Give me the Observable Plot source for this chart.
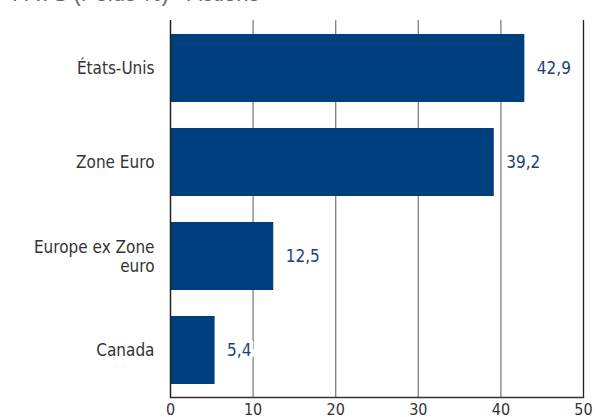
<!DOCTYPE html>
<html>
<head>
<meta charset="utf-8">
<script src="https://cdn.jsdelivr.net/npm/d3@7"></script>
<script src="https://cdn.jsdelivr.net/npm/@observablehq/plot@0.6"></script>
<style>
  body { margin: 0; background: #fff; }
  #wrap { position: relative; width: 595px; height: 417px; overflow: hidden; }
  #title { position: absolute; left: 12px; top: -17px; font: 22px "Liberation Sans", Arial, sans-serif; line-height: 22px; color: #666; white-space: nowrap; }
  #chart { position: absolute; left: 0; top: 0; }
</style>
</head>
<body>
<div id="wrap">
  <div id="chart"></div>
  <div id="title">PAYS (Poids %) - Actions</div>
</div>
<script>
const categories = ["États-Unis", "Zone Euro", "Europe ex Zone euro", "Canada"];
const labels = ["États-Unis", "Zone Euro", "Europe ex Zone\neuro", "Canada"];
const values = [42.9, 39.2, 12.5, 5.4];
const xTicks = [0, 10, 20, 30, 40, 50];

const data = categories.map((c, i) => ({ cat: c, value: values[i] }));
const fmt = v => v.toFixed(1).replace(".", ",");
const font = '"DejaVu Sans Condensed", "DejaVu Sans", sans-serif';

const chart = Plot.plot({
  width: 595,
  height: 417,
  marginLeft: 170,
  marginRight: 12,
  marginTop: 20,
  marginBottom: 20,
  style: { fontFamily: font, background: "#fff", overflow: "visible" },
  x: { domain: [0, 50], ticks: xTicks },
  y: { domain: categories, paddingInner: 0.28, paddingOuter: 0.14, align: 0.5 },
  marks: [
    Plot.ruleX(xTicks.filter(t => t > 0 && t < 50), { stroke: "#808080", strokeWidth: 1.3 }),
    Plot.ruleX([50], { stroke: "#222", strokeWidth: 1.3 }),
    Plot.barX(data, { x: "value", y: "cat", fill: "#003f7d" }),
    Plot.text(data, {
      x: "value", y: "cat", text: d => fmt(d.value),
      dx: 12, textAnchor: "start", fill: "#1c3f7c", fontSize: 17,
      stroke: "white", strokeWidth: 8, paintOrder: "stroke"
    }),
    Plot.ruleX([0], { stroke: "#222", strokeWidth: 1.5 }),
    Plot.axisX({ ticks: xTicks, tickSize: 0, tickPadding: 6, fontSize: 16, color: "#333", anchor: "bottom", label: null }),
    Plot.axisY({ tickSize: 0, tickPadding: 16, fontSize: 17, color: "#333", label: null,
      tickFormat: c => labels[categories.indexOf(c)], lineHeight: 1.1 }),
    Plot.frame({ anchor: "bottom", stroke: "#333", strokeWidth: 1.5 })
  ]
});
document.getElementById("chart").appendChild(chart);
</script>
</body>
</html>
